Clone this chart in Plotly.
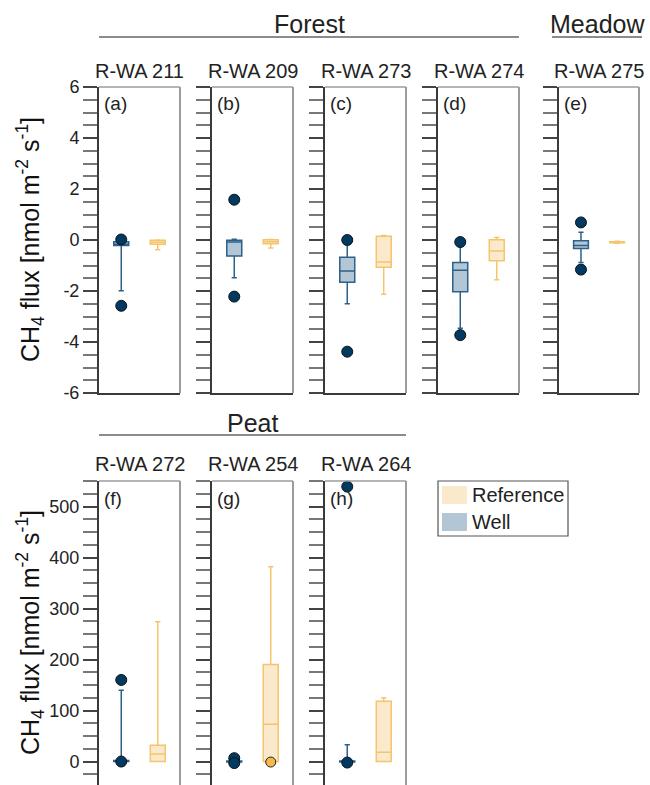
import plotly.graph_objects as go

W, H = 650, 785
FONT = "Liberation Sans, Arial, sans-serif"

# ---------------- data ----------------
top_sites = ["R-WA 211", "R-WA 209", "R-WA 273", "R-WA 274", "R-WA 275"]
top_letters = ["(a)", "(b)", "(c)", "(d)", "(e)"]
bot_sites = ["R-WA 272", "R-WA 254", "R-WA 264"]
bot_letters = ["(f)", "(g)", "(h)"]

# Well box stats (top row: a-e, bottom row: f-h)
well_q1 = [-0.22, -0.63, -1.66, -2.03, -0.33, 0.0, -1.0, -1.0]
well_med = [-0.17, -0.08, -1.22, -1.19, -0.22, 1.0, 0.0, 0.0]
well_q3 = [-0.07, -0.01, -0.68, -0.88, -0.03, 2.0, 1.0, 1.0]
well_lo = [-1.99, -1.48, -2.50, -3.46, -0.88, -1.0, -2.0, -1.0]
well_hi = [-0.07, 0.03, -0.05, -0.15, 0.30, 140.0, 3.0, 33.0]
well_out = [[0.02, -2.58], [1.58, -2.22], [0.0, -4.38], [-0.08, -3.73],
            [0.69, -1.16], [160.0, 0.0], [6.6, -3.0], [-2.0, 539.0]]

# Reference box stats
ref_q1 = [-0.17, -0.15, -1.07, -0.81, -0.11, 0.0, 0.0, 0.0]
ref_med = [-0.09, -0.07, -0.86, -0.43, -0.09, 15.0, 73.0, 18.0]
ref_q3 = [-0.01, 0.01, 0.15, 0.01, -0.07, 32.0, 190.0, 118.0]
ref_lo = [-0.38, -0.31, -2.13, -1.56, -0.13, 0.0, 0.0, 0.0]
ref_hi = [0.0, 0.02, 0.18, 0.10, -0.05, 274.0, 382.0, 125.0]
ref_out = [[], [], [], [], [], [], [-1.0], []]

top_ticks = [-6, -4, -2, 0, 2, 4, 6]
bot_ticks = [0, 100, 200, 300, 400, 500]

# ---------------- style ----------------
WELL_LINE = "#2d6189"
WELL_FILL = "#b2c6d6"
WELL_DOT = "#003a63"
REF_LINE = "#f6c46d"
REF_FILL = "#fbe9cc"
REF_DOT = "#f5b94a"
AX = "#3a3a3a"
BORDER = "#9c9c9c"

top_x_px = [(99, 180), (212, 293), (325, 406), (438, 519), (559, 639)]
bot_x_px = [(99, 180), (212, 293), (325, 406)]
top_y_px = (87, 393)
bot_y_px = (481, 785)


def px_x(v):
    return v / W


def px_y(v):
    return 1 - v / H


fig = go.Figure()
layout = {}
shapes = []
annotations = []

panels = []
for i in range(5):
    panels.append((top_x_px[i], top_y_px, top_sites[i], top_letters[i], "top"))
for i in range(3):
    panels.append((bot_x_px[i], bot_y_px, bot_sites[i], bot_letters[i], "bot"))

for k, (xp, yp, site, letter, row) in enumerate(panels):
    n = k + 1
    xa = "x" if n == 1 else f"x{n}"
    ya = "y" if n == 1 else f"y{n}"
    xkey = "xaxis" if n == 1 else f"xaxis{n}"
    ykey = "yaxis" if n == 1 else f"yaxis{n}"

    # boxes
    fig.add_trace(go.Box(
        x=[0], q1=[well_q1[k]], median=[well_med[k]], q3=[well_q3[k]],
        lowerfence=[well_lo[k]], upperfence=[well_hi[k]],
        width=0.41, whiskerwidth=0.35, boxpoints=False,
        fillcolor=WELL_FILL, line=dict(color=WELL_LINE, width=1.5),
        xaxis=xa, yaxis=ya, showlegend=False, name="Well"))
    fig.add_trace(go.Box(
        x=[1], q1=[ref_q1[k]], median=[ref_med[k]], q3=[ref_q3[k]],
        lowerfence=[ref_lo[k]], upperfence=[ref_hi[k]],
        width=0.41, whiskerwidth=0.35, boxpoints=False,
        fillcolor=REF_FILL, line=dict(color=REF_LINE, width=1.5),
        xaxis=xa, yaxis=ya, showlegend=False, name="Reference"))
    if well_out[k]:
        fig.add_trace(go.Scatter(
            x=[0] * len(well_out[k]), y=well_out[k], mode="markers",
            marker=dict(size=11, color=WELL_DOT, line=dict(color="#111", width=1)),
            xaxis=xa, yaxis=ya, showlegend=False, cliponaxis=False))
    if ref_out[k]:
        fig.add_trace(go.Scatter(
            x=[1] * len(ref_out[k]), y=ref_out[k], mode="markers",
            marker=dict(size=10, color=REF_DOT, line=dict(color="#222", width=1)),
            xaxis=xa, yaxis=ya, showlegend=False, cliponaxis=False))

    layout[xkey] = dict(
        domain=[px_x(xp[0]), px_x(xp[1])], range=[-0.61, 1.61],
        showticklabels=False, ticks="", showgrid=False, zeroline=False,
        showline=(row == "top"), linecolor=AX, linewidth=2, anchor=ya,
        fixedrange=True, automargin=False)
    if row == "top":
        yr = [-6, 6]
        tv = top_ticks
        mdt = 0.5
    else:
        yr = [-46, 550]
        tv = bot_ticks
        mdt = 25
    layout[ykey] = dict(
        domain=[px_y(yp[1]), px_y(yp[0])], range=yr,
        tickvals=tv, ticktext=[str(t) for t in tv],
        showticklabels=(k in (0, 5)), ticks="outside", ticklen=14,
        tickcolor="#444", tickwidth=1.5,
        minor=dict(dtick=mdt, tick0=0, ticks="outside", ticklen=14,
                   tickcolor="#777", tickwidth=1.5, showgrid=False),
        showgrid=False, zeroline=False, showline=True, linecolor=AX,
        linewidth=2, anchor=xa, tickfont=dict(size=18, color="#222"),
        fixedrange=True, automargin=False)

    # right and top borders
    shapes.append(dict(type="line", xref=f"{xa} domain", yref=f"{ya} domain",
                       x0=1, x1=1, y0=0, y1=1,
                       line=dict(color=BORDER, width=2)))
    shapes.append(dict(type="line", xref=f"{xa} domain", yref=f"{ya} domain",
                       x0=0, x1=1, y0=1, y1=1,
                       line=dict(color=BORDER, width=1.5)))

    # site title
    title_y = 71 if row == "top" else 464
    annotations.append(dict(
        text=site, x=px_x((xp[0] + xp[1]) / 2), y=px_y(title_y),
        xref="paper", yref="paper", showarrow=False, xanchor="center",
        yanchor="middle", font=dict(size=20, color="#222")))
    # panel letter
    let_y = 104 if row == "top" else 498
    annotations.append(dict(
        text=letter, x=px_x(xp[0] + 3), y=px_y(let_y),
        xref="paper", yref="paper", showarrow=False, xanchor="left",
        yanchor="middle", font=dict(size=19, color="#222")))

# group labels and lines
groups = [("Forest", 99, 519, 24, 37), ("Meadow", 552, 642, 24, 37),
          ("Peat", 99, 406, 423, 435)]
for name, x0, x1, ty, ly in groups:
    annotations.append(dict(
        text=name, x=px_x((x0 + x1) / 2), y=px_y(ty), xref="paper",
        yref="paper", showarrow=False, xanchor="center", yanchor="middle",
        font=dict(size=25, color="#222")))
    shapes.append(dict(type="line", xref="paper", yref="paper",
                       x0=px_x(x0), x1=px_x(x1), y0=px_y(ly), y1=px_y(ly),
                       line=dict(color="#666", width=1.5)))

# y-axis titles
ytitle = "CH<sub>4</sub> flux [nmol m<sup>-2</sup> s<sup>-1</sup>]"
for cy in (240, 633):
    annotations.append(dict(
        text=ytitle, x=px_x(30), y=px_y(cy), xref="paper", yref="paper",
        showarrow=False, xanchor="center", yanchor="middle", textangle=-90,
        font=dict(size=25, color="#111")))

# legend (drawn)
shapes.append(dict(type="rect", xref="paper", yref="paper",
                   x0=px_x(438), x1=px_x(568), y0=px_y(536), y1=px_y(481),
                   line=dict(color="#555", width=1.2), fillcolor="white"))
legend_items = [("Reference", REF_FILL, 495), ("Well", WELL_FILL, 522)]
for label, col, cy in legend_items:
    shapes.append(dict(type="rect", xref="paper", yref="paper",
                       x0=px_x(442), x1=px_x(467), y0=px_y(cy + 9),
                       y1=px_y(cy - 9), line=dict(width=0), fillcolor=col))
    annotations.append(dict(
        text=label, x=px_x(470), y=px_y(cy), xref="paper", yref="paper",
        showarrow=False, xanchor="left", yanchor="middle",
        font=dict(size=20, color="#222")))

fig.update_layout(
    width=W, height=H, margin=dict(l=0, r=0, t=0, b=0, autoexpand=False),
    paper_bgcolor="white", plot_bgcolor="white",
    font=dict(family=FONT, color="#222"),
    shapes=shapes, annotations=annotations, boxmode="overlay",
    showlegend=False, **layout)

fig.write_html("out.html")
